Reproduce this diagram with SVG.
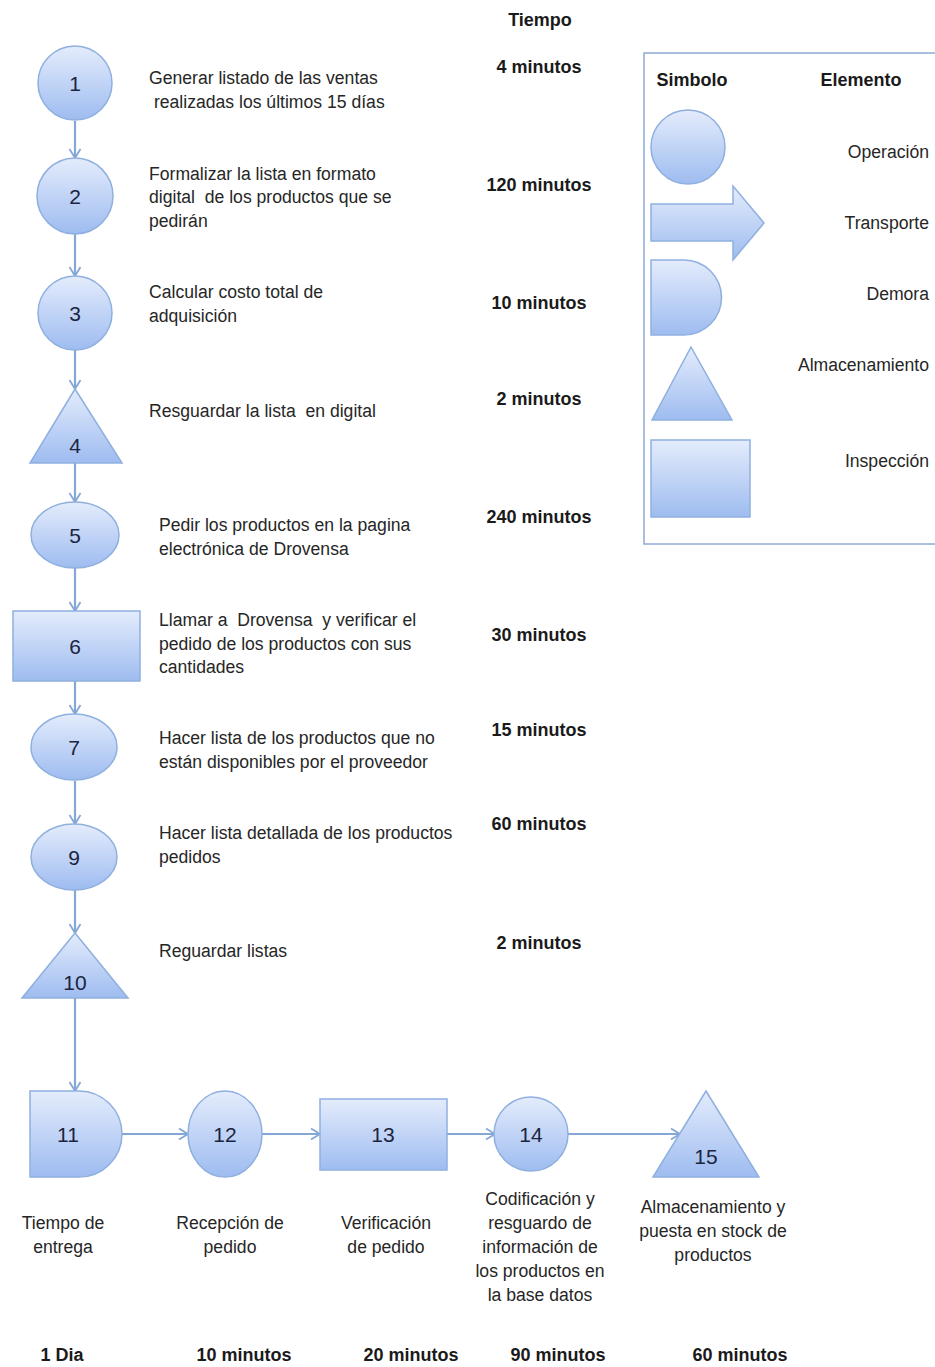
<svg xmlns="http://www.w3.org/2000/svg" width="935" height="1367" viewBox="0 0 935 1367">
<defs>
<linearGradient id="g" x1="0" y1="0" x2="0" y2="1">
<stop offset="0" stop-color="#e4ecfc"/>
<stop offset="1" stop-color="#9ebcf0"/>
</linearGradient>
<marker id="ah" markerWidth="14" markerHeight="14" refX="12" refY="7" orient="auto" markerUnits="userSpaceOnUse">
<path d="M3,1.5 L12,7 L3,12.5" fill="none" stroke="#85a7d6" stroke-width="1.8"/>
</marker>
<style>
.s{fill:url(#g);stroke:#8fb0df;stroke-width:1.5}
.c{stroke:#85a7d6;stroke-width:2.2;fill:none;marker-end:url(#ah)}
.n{font-family:"Liberation Sans",Arial,sans-serif;font-size:21px;fill:#1c2540;text-anchor:middle}
.t{font-family:"Liberation Sans",Arial,sans-serif;font-size:17.6px;fill:#262626;white-space:pre}
.m{font-family:"Liberation Sans",Arial,sans-serif;font-size:18px;font-weight:bold;fill:#1a1a1a;text-anchor:middle}
.tc{font-family:"Liberation Sans",Arial,sans-serif;font-size:17.6px;fill:#262626;text-anchor:middle}
.tr{font-family:"Liberation Sans",Arial,sans-serif;font-size:17.6px;fill:#262626;text-anchor:end}
</style>
</defs>
<rect width="935" height="1367" fill="#ffffff"/>

<g id="connectors">
<line class="c" x1="75" y1="121" x2="75" y2="158"/>
<line class="c" x1="75" y1="234" x2="75" y2="276"/>
<line class="c" x1="75" y1="350" x2="75" y2="389"/>
<line class="c" x1="75" y1="463" x2="75" y2="502"/>
<line class="c" x1="75" y1="568" x2="75" y2="611"/>
<line class="c" x1="75" y1="681" x2="75" y2="714"/>
<line class="c" x1="75" y1="781" x2="75" y2="824"/>
<line class="c" x1="75" y1="890" x2="75" y2="933"/>
<line class="c" x1="75" y1="998" x2="75" y2="1091"/>
<line class="c" x1="122" y1="1134" x2="188" y2="1134"/>
<line class="c" x1="262" y1="1134" x2="320" y2="1134"/>
<line class="c" x1="447" y1="1134" x2="495" y2="1134"/>
<line class="c" x1="568" y1="1134" x2="680" y2="1134"/>
</g>

<text class="m" x="540" y="26">Tiempo</text>

<g id="n1">
<circle class="s" cx="75" cy="83" r="37"/>
<text class="n" x="75" y="91">1</text>
<text class="t" x="149" y="84">Generar listado de las ventas</text>
<text class="t" x="149" y="108"> realizadas los últimos 15 días</text>
<text class="m" x="539" y="73">4 minutos</text>
</g>
<g id="n2">
<circle class="s" cx="75" cy="196" r="38"/>
<text class="n" x="75" y="204">2</text>
<text class="t" x="149" y="180">Formalizar la lista en formato</text>
<text class="t" x="149" y="203">digital  de los productos que se</text>
<text class="t" x="149" y="227">pedirán</text>
<text class="m" x="539" y="191">120 minutos</text>
</g>
<g id="n3">
<circle class="s" cx="75" cy="313" r="37"/>
<text class="n" x="75" y="321">3</text>
<text class="t" x="149" y="298">Calcular costo total de</text>
<text class="t" x="149" y="322">adquisición</text>
<text class="m" x="539" y="309">10 minutos</text>
</g>
<g id="n4">
<polygon class="s" points="75,389 122,463 30,463"/>
<text class="n" x="75" y="453">4</text>
<text class="t" x="149" y="417">Resguardar la lista  en digital</text>
<text class="m" x="539" y="405">2 minutos</text>
</g>
<g id="n5">
<ellipse class="s" cx="75" cy="535" rx="44" ry="33"/>
<text class="n" x="75" y="543">5</text>
<text class="t" x="159" y="531">Pedir los productos en la pagina</text>
<text class="t" x="159" y="555">electrónica de Drovensa</text>
<text class="m" x="539" y="523">240 minutos</text>
</g>
<g id="n6">
<rect class="s" x="13" y="611" width="127" height="70"/>
<text class="n" x="75" y="654">6</text>
<text class="t" x="159" y="626">Llamar a  Drovensa  y verificar el</text>
<text class="t" x="159" y="650">pedido de los productos con sus</text>
<text class="t" x="159" y="673">cantidades</text>
<text class="m" x="539" y="641">30 minutos</text>
</g>
<g id="n7">
<ellipse class="s" cx="74" cy="747" rx="43" ry="33"/>
<text class="n" x="74" y="755">7</text>
<text class="t" x="159" y="744">Hacer lista de los productos que no</text>
<text class="t" x="159" y="768">están disponibles por el proveedor</text>
<text class="m" x="539" y="736">15 minutos</text>
</g>
<g id="n9">
<ellipse class="s" cx="74" cy="857" rx="43" ry="33"/>
<text class="n" x="74" y="865">9</text>
<text class="t" x="159" y="839">Hacer lista detallada de los productos</text>
<text class="t" x="159" y="863">pedidos</text>
<text class="m" x="539" y="830">60 minutos</text>
</g>
<g id="n10">
<polygon class="s" points="75,933 128,998 22,998"/>
<text class="n" x="75" y="990">10</text>
<text class="t" x="159" y="957">Reguardar listas</text>
<text class="m" x="539" y="949">2 minutos</text>
</g>
<g id="n11">
<path class="s" d="M30,1091 H79 A43,43 0 0 1 79,1177 H30 Z"/>
<text class="n" x="68" y="1142">11</text>
<text class="tc" x="63" y="1229">Tiempo de</text>
<text class="tc" x="63" y="1253">entrega</text>
<text class="m" x="62" y="1361">1 Dia</text>
</g>
<g id="n12">
<ellipse class="s" cx="225" cy="1134" rx="37" ry="43"/>
<text class="n" x="225" y="1142">12</text>
<text class="tc" x="230" y="1229">Recepción de</text>
<text class="tc" x="230" y="1253">pedido</text>
<text class="m" x="244" y="1361">10 minutos</text>
</g>
<g id="n13">
<rect class="s" x="320" y="1099" width="127" height="71"/>
<text class="n" x="383" y="1142">13</text>
<text class="tc" x="386" y="1229">Verificación</text>
<text class="tc" x="386" y="1253">de pedido</text>
<text class="m" x="411" y="1361">20 minutos</text>
</g>
<g id="n14">
<circle class="s" cx="531" cy="1134" r="37"/>
<text class="n" x="531" y="1142">14</text>
<text class="tc" x="540" y="1205">Codificación y</text>
<text class="tc" x="540" y="1229">resguardo de</text>
<text class="tc" x="540" y="1253">información de</text>
<text class="tc" x="540" y="1277">los productos en</text>
<text class="tc" x="540" y="1301">la base datos</text>
<text class="m" x="558" y="1361">90 minutos</text>
</g>
<g id="n15">
<polygon class="s" points="706,1091 759,1177 653,1177"/>
<text class="n" x="706" y="1164">15</text>
<text class="tc" x="713" y="1213">Almacenamiento y</text>
<text class="tc" x="713" y="1237">puesta en stock de</text>
<text class="tc" x="713" y="1261">productos</text>
<text class="m" x="740" y="1361">60 minutos</text>
</g>

<g id="legend">
<rect x="644" y="53" width="300" height="491" fill="none" stroke="#8fabd6" stroke-width="1.5"/>
<text class="m" x="692" y="86">Simbolo</text>
<text class="m" x="861" y="86">Elemento</text>
<circle class="s" cx="688" cy="147" r="37"/>
<text class="tr" x="929" y="158">Operación</text>
<path class="s" d="M651,204 H733 V186 L764,223 L733,260 V241 H651 Z"/>
<text class="tr" x="929" y="229">Transporte</text>
<path class="s" d="M651,260 H684 A37.5,37.5 0 0 1 684,335 H651 Z"/>
<text class="tr" x="929" y="300">Demora</text>
<polygon class="s" points="691,347 732,420 652,420"/>
<text class="tr" x="929" y="371">Almacenamiento</text>
<rect class="s" x="651" y="440" width="99" height="77"/>
<text class="tr" x="929" y="467">Inspección</text>
</g>
</svg>
